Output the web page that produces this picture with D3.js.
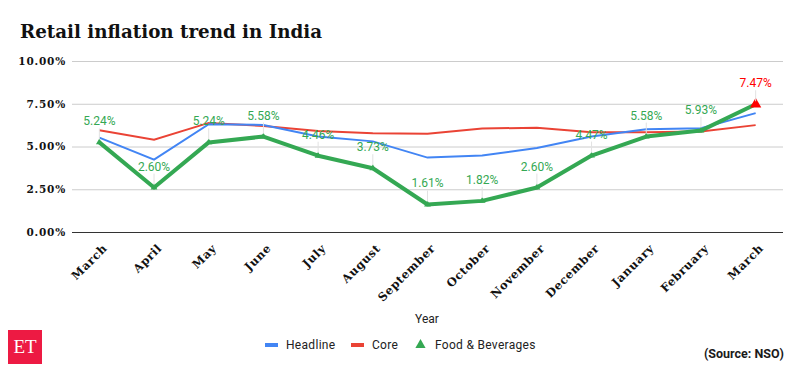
<!DOCTYPE html>
<html>
<head>
<meta charset="utf-8">
<script src="https://cdn.jsdelivr.net/npm/d3@7"></script>
<style>
  body { margin: 0; background: #fff; }
  svg { display: block; }
</style>
</head>
<body>
<div id="chart"></div>
<script>
// data
var months = ["March", "April", "May", "June", "July", "August", "September",
              "October", "November", "December", "January", "February", "March"];
var headline = [5.52, 4.23, 6.30, 6.26, 5.59, 5.30, 4.35, 4.48, 4.91, 5.59, 6.01, 6.07, 6.95];
var core = [5.95, 5.40, 6.38, 6.20, 5.90, 5.78, 5.74, 6.05, 6.10, 5.83, 5.83, 5.88, 6.25];
var food = [5.24, 2.60, 5.24, 5.58, 4.46, 3.73, 1.61, 1.82, 2.60, 4.47, 5.58, 5.93, 7.47];
var yTicks = [0, 2.5, 5, 7.5, 10];

var width = 801, height = 371;
var margin = {top: 61, right: 18, bottom: 139, left: 72};

var svg = d3.select("#chart")
  .append("svg")
    .attr("width", width)
    .attr("height", height);

var x = d3.scalePoint()
    .domain(d3.range(months.length))
    .range([margin.left, width - margin.right])
    .padding(0.5);

var y = d3.scaleLinear()
    .domain([0, 10])
    .range([height - margin.bottom, margin.top]);

var fmt = function(d) { return d.toFixed(2) + "%"; };

// title
svg.append("text")
    .attr("x", 20)
    .attr("y", 38)
    .attr("font-family", "DejaVu Serif")
    .attr("font-weight", 700)
    .attr("font-size", "18.3px")
    .attr("fill", "#111")
    .text("Retail inflation trend in India");

// gridlines + y labels
var yAxis = svg.append("g")
    .attr("transform", "translate(" + margin.left + ",0)")
    .call(d3.axisLeft(y).tickValues(yTicks).tickFormat(fmt)
      .tickSize(-(width - margin.left - margin.right)).tickPadding(6));
yAxis.select(".domain").remove();
yAxis.selectAll(".tick line")
    .attr("stroke", function(d) { return d === 0 ? "#333" : "#ccc"; });
yAxis.selectAll(".tick text")
    .attr("font-family", "DejaVu Serif")
    .attr("font-weight", 700)
    .attr("font-size", "10.5px")
    .attr("letter-spacing", "0.8px")
    .attr("fill", "#111");

// x labels, rotated
var xAxis = svg.append("g")
    .attr("transform", "translate(0," + y(0) + ")")
    .call(d3.axisBottom(x).tickSize(0).tickFormat(function(i) { return months[i]; }));
xAxis.select(".domain").remove();
xAxis.selectAll(".tick text")
    .attr("text-anchor", "end")
    .attr("dy", null)
    .attr("y", null)
    .attr("transform", "translate(8,17) rotate(-45)")
    .attr("font-family", "DejaVu Serif")
    .attr("font-weight", 700)
    .attr("font-size", "11.5px")
    .attr("letter-spacing", "0.6px")
    .attr("fill", "#111");

// lines
var line = d3.line()
    .x(function(d, i) { return x(i); })
    .y(function(d) { return y(d); });

svg.append("path").datum(core)
    .attr("fill", "none").attr("stroke", "#ea4335").attr("stroke-width", 2)
    .attr("d", line);
svg.append("path").datum(headline)
    .attr("fill", "none").attr("stroke", "#4285f4").attr("stroke-width", 2)
    .attr("d", line);
svg.append("path").datum(food)
    .attr("fill", "none").attr("stroke", "#34a853").attr("stroke-width", 4)
    .attr("stroke-linejoin", "round")
    .attr("d", line);

// markers on food series
var tri = d3.symbol().type(d3.symbolTriangle);
svg.selectAll(".mk").data(food).enter().append("path")
    .attr("class", "mk")
    .attr("transform", function(d, i) { return "translate(" + x(i) + "," + y(d) + ")"; })
    .attr("d", function(d, i) { return tri.size(i === food.length - 1 ? 55 : 20)(); })
    .attr("fill", function(d, i) { return i === food.length - 1 ? "#ff0000" : "#34a853"; });

// leader lines and data labels
svg.selectAll(".lead").data(food).enter().append("line")
    .attr("class", "lead")
    .attr("x1", function(d, i) { return x(i); })
    .attr("x2", function(d, i) { return x(i); })
    .attr("y1", function(d) { return y(d) - 14; })
    .attr("y2", function(d) { return y(d) - 3; })
    .attr("stroke", "#e2e2e2")
    .attr("stroke-width", 1);

svg.selectAll(".lbl").data(food).enter().append("text")
    .attr("class", "lbl")
    .attr("x", function(d, i) { return x(i); })
    .attr("y", function(d) { return y(d) - 17; })
    .attr("text-anchor", "middle")
    .attr("font-family", "Roboto")
    .attr("font-size", "12px")
    .attr("fill", function(d, i) { return i === food.length - 1 ? "#ff0000" : "#34a853"; })
    .text(fmt);

// axis title
svg.append("text")
    .attr("x", 427)
    .attr("y", 323)
    .attr("text-anchor", "middle")
    .attr("font-family", "Roboto")
    .attr("font-size", "12px")
    .attr("fill", "#222")
    .text("Year");

// legend
var legend = svg.append("g").attr("font-family", "Roboto").attr("font-size", "12px")
    .attr("letter-spacing", "0.3px").attr("fill", "#222");
legend.append("rect").attr("x", 265).attr("y", 343).attr("width", 13).attr("height", 4).attr("fill", "#4285f4");
legend.append("text").attr("x", 286).attr("y", 349).text("Headline");
legend.append("rect").attr("x", 351).attr("y", 343).attr("width", 13).attr("height", 4).attr("fill", "#ea4335");
legend.append("text").attr("x", 372).attr("y", 349).text("Core");
legend.append("path").attr("transform", "translate(420.5,345)").attr("d", tri.size(45)()).attr("fill", "#34a853");
legend.append("text").attr("x", 435).attr("y", 349).text("Food & Beverages");

// source
svg.append("text")
    .attr("x", 784)
    .attr("y", 358)
    .attr("text-anchor", "end")
    .attr("font-family", "Roboto")
    .attr("font-weight", 700)
    .attr("font-size", "12.5px")
    .attr("fill", "#1a1a1a")
    .text("(Source: NSO)");

// ET logo
svg.append("rect").attr("x", 8).attr("y", 330).attr("width", 34).attr("height", 34).attr("fill", "#ed1a43");
svg.append("text")
    .attr("x", 25).attr("y", 353)
    .attr("text-anchor", "middle")
    .attr("font-family", "Liberation Serif")
    .attr("font-size", "19px")
    .attr("fill", "#fff")
    .text("ET");
</script>
</body>
</html>
